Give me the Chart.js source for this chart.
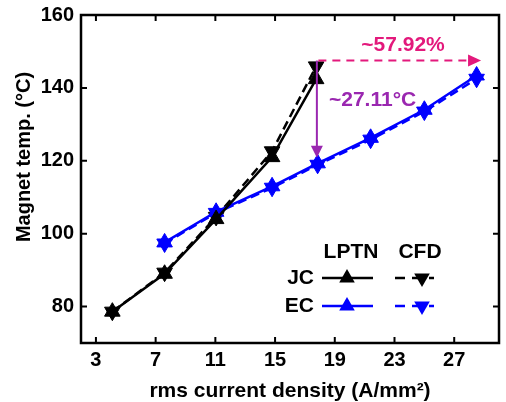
<!DOCTYPE html>
<html><head><meta charset="utf-8">
<script src="https://cdn.jsdelivr.net/npm/chart.js@4.4.1/dist/chart.umd.min.js"></script>
<style>html,body{margin:0;padding:0;overflow:hidden;background:#fff}#wrap{width:509px;height:402px;position:relative}canvas{display:block}</style>
</head><body><div id="wrap"><canvas id="c" width="509" height="402" style="width:509px;height:402px"></canvas></div>
<script>
// ---- data ----
const xTicks = [3, 7, 11, 15, 19, 23, 27];
const yTicks = [80, 100, 120, 140, 160];
const jcX    = [4.1, 7.6, 11.05, 14.8, 17.75];
const jcLPTN = [78.6, 89.0, 104.0, 121.0, 142.4];
const jcCFD  = [78.6, 89.3, 104.6, 122.6, 145.9];
const ecX    = [7.6, 11.05, 14.8, 17.85, 21.4, 25.0, 28.5];
const ecLPTN = [97.6, 106.0, 113.0, 119.3, 126.3, 134.0, 143.4];
const ecCFD  = [97.3, 105.7, 112.6, 118.9, 125.8, 133.5, 142.5];
const seriesNames = ['LPTN', 'CFD'];
const groupNames = ['JC', 'EC'];
const pctArrow = {x0: 17.9, x1: 28.8, y: 147.5, label: '~57.92%'};
const dropArrow = {x: 17.8, y0: 147.5, y1: 120.8, label: '~27.11°C'};

const FONT = "'Liberation Sans', Arial, sans-serif";
const BLACK = '#000000', BLUE = '#0000ff', PINK = '#e3197c', PURPLE = '#9a27b0';

function pts(xs, ys){ return xs.map((x,i)=>({x:x, y:ys[i]})); }
function ds(label, xs, ys, color, dashed){
  return {
    label: label, data: pts(xs, ys), borderColor: color, backgroundColor: color,
    borderWidth: 2.5, borderDash: dashed ? [9,5] : [], tension: 0,
    pointStyle: 'triangle', pointRadius: 9, pointHoverRadius: 9,
    pointRotation: dashed ? 180 : 0, pointBorderWidth: 1,
    pointBorderColor: color, pointBackgroundColor: color, order: dashed ? 2 : 1
  };
}

function tri(ctx, x, y, r, down){
  ctx.beginPath();
  const s = down ? -1 : 1;
  ctx.moveTo(x, y - s*r);
  ctx.lineTo(x + r*Math.sin(2*Math.PI/3), y + s*r/2);
  ctx.lineTo(x - r*Math.sin(2*Math.PI/3), y + s*r/2);
  ctx.closePath(); ctx.fill();
}

const deco = {
  id: 'deco',
  afterDraw(chart){
    const ctx = chart.ctx, a = chart.chartArea, xs = chart.scales.x, ys = chart.scales.y;
    ctx.save();
    // frame
    ctx.strokeStyle = BLACK; ctx.lineWidth = 2.5; ctx.setLineDash([]);
    ctx.strokeRect(a.left, a.top, a.right - a.left, a.bottom - a.top);
    // inward ticks
    ctx.lineWidth = 2;
    const tl = 6;
    xTicks.forEach(v=>{
      const p = xs.getPixelForValue(v);
      ctx.beginPath(); ctx.moveTo(p, a.bottom); ctx.lineTo(p, a.bottom - tl);
      ctx.moveTo(p, a.top); ctx.lineTo(p, a.top + tl); ctx.stroke();
    });
    yTicks.forEach(v=>{
      const p = ys.getPixelForValue(v);
      ctx.beginPath(); ctx.moveTo(a.left, p); ctx.lineTo(a.left + tl, p);
      ctx.moveTo(a.right, p); ctx.lineTo(a.right - tl, p); ctx.stroke();
    });
    // y title
    ctx.save();
    ctx.translate(24, 157); ctx.rotate(-Math.PI/2);
    ctx.fillStyle = BLACK; ctx.font = "bold 20px " + FONT;
    ctx.textAlign = 'center'; ctx.textBaseline = 'middle';
    ctx.fillText('Magnet temp. (°C)', 0, 0);
    ctx.restore();

    // pink dashed arrow
    const py = ys.getPixelForValue(pctArrow.y);
    const px0 = xs.getPixelForValue(pctArrow.x0), px1 = xs.getPixelForValue(pctArrow.x1);
    ctx.strokeStyle = PINK; ctx.fillStyle = PINK; ctx.lineWidth = 2;
    ctx.setLineDash([8,6]);
    ctx.beginPath(); ctx.moveTo(px0, py); ctx.lineTo(px1 - 10, py); ctx.stroke();
    ctx.setLineDash([]);
    ctx.beginPath(); ctx.moveTo(px1, py); ctx.lineTo(px1 - 13, py - 6); ctx.lineTo(px1 - 13, py + 6); ctx.closePath(); ctx.fill();
    ctx.font = "bold 21px " + FONT; ctx.textAlign = 'center'; ctx.textBaseline = 'middle';
    ctx.fillText(pctArrow.label, 403, 45);

    // purple drop arrow
    const dx = xs.getPixelForValue(dropArrow.x);
    const dy0 = ys.getPixelForValue(dropArrow.y0), dy1 = ys.getPixelForValue(dropArrow.y1);
    ctx.strokeStyle = PURPLE; ctx.fillStyle = PURPLE; ctx.lineWidth = 2;
    ctx.beginPath(); ctx.moveTo(dx, dy0); ctx.lineTo(dx, dy1 - 10); ctx.stroke();
    ctx.beginPath(); ctx.moveTo(dx, dy1); ctx.lineTo(dx - 6, dy1 - 12); ctx.lineTo(dx + 6, dy1 - 12); ctx.closePath(); ctx.fill();
    ctx.textAlign = 'left';
    ctx.fillText(dropArrow.label, 329, 100);

    // legend
    ctx.fillStyle = BLACK; ctx.font = "bold 21px " + FONT; ctx.textAlign = 'center'; ctx.textBaseline = 'middle';
    ctx.fillText(seriesNames[0], 351, 252);
    ctx.fillText(seriesNames[1], 420, 252);
    const rows = [{y: 278, c: BLACK}, {y: 306, c: BLUE}];
    rows.forEach((r, i)=>{
      ctx.fillStyle = BLACK; ctx.textAlign = 'right';
      ctx.fillText(groupNames[i], 314, r.y);
      ctx.strokeStyle = r.c; ctx.fillStyle = r.c; ctx.lineWidth = 2.5;
      ctx.setLineDash([]);
      ctx.beginPath(); ctx.moveTo(322, r.y); ctx.lineTo(373, r.y); ctx.stroke();
      tri(ctx, 347, r.y, 9, false);
      ctx.setLineDash([10,7]);
      ctx.beginPath(); ctx.moveTo(395, r.y); ctx.lineTo(434, r.y); ctx.stroke();
      ctx.setLineDash([]);
      tri(ctx, 422, r.y, 9, true);
    });
    ctx.restore();
  }
};

new Chart(document.getElementById('c'), {
  type: 'line',
  data: { datasets: [
    ds('JC LPTN', jcX, jcLPTN, BLACK, false),
    ds('JC CFD', jcX, jcCFD, BLACK, true),
    ds('EC LPTN', ecX, ecLPTN, BLUE, false),
    ds('EC CFD', ecX, ecCFD, BLUE, true)
  ]},
  options: {
    responsive: false, animation: false, devicePixelRatio: 1,
    layout: { padding: { top: 15, right: 0, left: 0, bottom: 0 } },
    plugins: { legend: { display: false }, tooltip: { enabled: false } },
    scales: {
      x: {
        type: 'linear', min: 2, max: 30,
        afterBuildTicks: s => { s.ticks = xTicks.map(v => ({value: v})); },
        afterFit: s => { s.height = 59; s.paddingLeft = 0; s.paddingRight = 0; },
        grid: { display: false, drawTicks: false }, border: { display: false },
        ticks: { color: BLACK, font: { family: FONT, size: 20, weight: 'bold' }, padding: 5, maxRotation: 0, autoSkip: false },
        title: { display: true, text: 'rms current density (A/mm²)', color: BLACK,
                 font: { family: FONT, size: 21, weight: 'bold', lineHeight: 1 }, padding: { top: 0, bottom: 0 } }
      },
      y: {
        min: 70, max: 160,
        afterBuildTicks: s => { s.ticks = yTicks.map(v => ({value: v})); },
        afterFit: s => { s.width = 81; s.paddingTop = 0; s.paddingBottom = 0; },
        grid: { display: false, drawTicks: false }, border: { display: false },
        ticks: { color: BLACK, font: { family: FONT, size: 20, weight: 'bold' }, padding: 7 }
      }
    }
  },
  plugins: [deco]
});
</script></body></html>
